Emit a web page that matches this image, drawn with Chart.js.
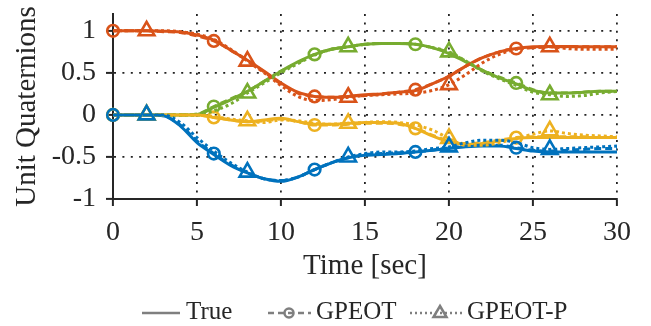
<!DOCTYPE html>
<html lang="en">

<head>
  <meta charset="utf-8" />
  <title>Unit Quaternions</title>
  <script src="https://cdn.jsdelivr.net/npm/chart.js@4.4.0/dist/chart.umd.min.js"></script>
  <style>
    body { margin: 0; background: #fff; }
  </style>
</head>

<body>
  <canvas id="chart" width="651" height="326"></canvas>
  <script>
    // time stamps [sec]
    const time = [0, 1, 2, 3, 4, 5, 6, 7, 8, 9, 10, 11, 12, 13, 14, 15, 16, 17, 18, 19, 20, 21, 22, 23, 24, 25, 26, 27, 28, 29, 30];

    // q0 (orange)
    const trueQ0 = [1.00, 1.00, 1.00, 0.995, 0.985, 0.95, 0.89, 0.77, 0.65, 0.52, 0.38, 0.27, 0.22, 0.21, 0.22, 0.24, 0.25, 0.27, 0.29, 0.37, 0.46, 0.58, 0.68, 0.75, 0.79, 0.81, 0.815, 0.815, 0.81, 0.81, 0.81];
    const gpeotQ0 = [1.00, 1.00, 1.00, 0.99, 0.98, 0.94, 0.88, 0.77, 0.65, 0.51, 0.37, 0.26, 0.22, 0.21, 0.22, 0.23, 0.25, 0.27, 0.30, 0.37, 0.46, 0.58, 0.68, 0.75, 0.79, 0.80, 0.81, 0.81, 0.81, 0.81, 0.81];
    const gpeotPQ0 = [1.00, 1.00, 1.00, 1.00, 0.99, 0.96, 0.90, 0.78, 0.64, 0.50, 0.35, 0.22, 0.17, 0.18, 0.21, 0.23, 0.24, 0.25, 0.26, 0.29, 0.36, 0.48, 0.62, 0.72, 0.78, 0.80, 0.81, 0.79, 0.78, 0.78, 0.78];

    // q1 (blue)
    const trueQ1 = [0, 0, 0, -0.01, -0.13, -0.33, -0.47, -0.60, -0.69, -0.76, -0.79, -0.74, -0.65, -0.57, -0.51, -0.48, -0.47, -0.46, -0.44, -0.42, -0.40, -0.38, -0.37, -0.37, -0.40, -0.43, -0.44, -0.44, -0.44, -0.44, -0.44];
    const gpeotQ1 = [0, 0, 0, -0.01, -0.12, -0.31, -0.46, -0.59, -0.69, -0.76, -0.78, -0.74, -0.65, -0.57, -0.51, -0.47, -0.46, -0.45, -0.44, -0.42, -0.39, -0.37, -0.36, -0.36, -0.39, -0.42, -0.43, -0.42, -0.41, -0.40, -0.40];
    const gpeotPQ1 = [0, 0, 0, 0, -0.09, -0.27, -0.43, -0.57, -0.68, -0.76, -0.78, -0.74, -0.65, -0.57, -0.50, -0.46, -0.44, -0.44, -0.43, -0.40, -0.38, -0.33, -0.30, -0.30, -0.33, -0.39, -0.41, -0.40, -0.39, -0.38, -0.37];

    // q2 (yellow)
    const trueQ2 = [0, 0, 0, 0, 0, 0, -0.03, -0.06, -0.08, -0.06, -0.04, -0.08, -0.11, -0.11, -0.10, -0.09, -0.09, -0.10, -0.16, -0.25, -0.32, -0.35, -0.34, -0.31, -0.28, -0.27, -0.27, -0.27, -0.27, -0.27, -0.27];
    const gpeotQ2 = [0, 0, 0, 0, 0, 0, -0.03, -0.06, -0.08, -0.07, -0.05, -0.08, -0.12, -0.12, -0.11, -0.10, -0.10, -0.11, -0.16, -0.24, -0.31, -0.34, -0.33, -0.30, -0.27, -0.26, -0.26, -0.26, -0.26, -0.27, -0.27];
    const gpeotPQ2 = [0, 0, 0, 0, 0, 0, -0.02, -0.05, -0.07, -0.09, -0.06, -0.07, -0.10, -0.11, -0.10, -0.09, -0.08, -0.09, -0.12, -0.18, -0.28, -0.36, -0.36, -0.33, -0.28, -0.23, -0.19, -0.22, -0.24, -0.25, -0.26];

    // q3 (green)
    const trueQ3 = [0, 0, 0, 0, 0, 0.005, 0.09, 0.18, 0.28, 0.40, 0.52, 0.63, 0.72, 0.78, 0.81, 0.84, 0.85, 0.85, 0.84, 0.80, 0.73, 0.63, 0.53, 0.44, 0.37, 0.29, 0.26, 0.26, 0.27, 0.28, 0.28];
    const gpeotQ3 = [0, 0, 0, 0, 0, 0.01, 0.10, 0.19, 0.28, 0.40, 0.52, 0.62, 0.72, 0.78, 0.81, 0.84, 0.85, 0.85, 0.84, 0.80, 0.74, 0.64, 0.53, 0.45, 0.38, 0.30, 0.26, 0.26, 0.27, 0.28, 0.28];
    const gpeotPQ3 = [0, 0, 0, 0, 0, 0, 0.05, 0.13, 0.26, 0.38, 0.50, 0.61, 0.71, 0.78, 0.81, 0.84, 0.85, 0.85, 0.84, 0.80, 0.75, 0.64, 0.52, 0.43, 0.35, 0.27, 0.24, 0.22, 0.23, 0.26, 0.28];

    // where the markers sit
    const gpeotMarkers = [0, 6, 12, 18, 24];
    const gpeotPMarkers = [2, 8, 14, 20, 26];

    const xTicks = [0, 5, 10, 15, 20, 25, 30];
    const yTicks = [-1, -0.5, 0, 0.5, 1];
    const legendLabels = ['True', 'GPEOT', 'GPEOT-P'];

    const colors = ['#D95319', '#0072BD', '#EDB120', '#77AC30'];
    const FONT = "'Liberation Serif', 'Times New Roman', serif";
    const TXT = '#262626';

    function pts(vals) {
      return time.map((t, i) => ({ x: t, y: vals[i] }));
    }

    const groups = [
      [trueQ0, gpeotQ0, gpeotPQ0],
      [trueQ1, gpeotQ1, gpeotPQ1],
      [trueQ2, gpeotQ2, gpeotPQ2],
      [trueQ3, gpeotQ3, gpeotPQ3]
    ];

    const datasets = [];
    groups.forEach((g, k) => {
      const c = colors[k];
      datasets.push({
        label: legendLabels[0], data: pts(g[0]), borderColor: c, borderWidth: 3,
        pointRadius: 0, order: 3, clip: false
      });
      datasets.push({
        label: legendLabels[1], data: pts(g[1]), borderColor: c, borderWidth: 3,
        borderDash: [7, 4], pointStyle: 'circle',
        pointRadius: ctx => gpeotMarkers.includes(ctx.raw.x) ? 5.8 : 0,
        pointBorderWidth: 2.6, pointBorderColor: c, pointBackgroundColor: 'rgba(255,255,255,0)',
        order: 2, clip: false
      });
      datasets.push({
        label: legendLabels[2], data: pts(g[2]), borderColor: c, borderWidth: 3,
        borderDash: [3, 3], pointStyle: 'triangle',
        pointRadius: ctx => gpeotPMarkers.includes(ctx.raw.x) ? 9 : 0,
        pointBorderWidth: 2.6, pointBorderColor: c, pointBackgroundColor: 'rgba(255,255,255,0)',
        order: 1, clip: false
      });
    });

    // legend with line + marker, drawn under the axis title
    const quatLegend = {
      id: 'quatLegend',
      afterDraw(chart) {
        const ctx = chart.ctx;
        const y = 313;
        const grey = '#7f7f7f';
        ctx.save();
        ctx.strokeStyle = grey;
        ctx.lineWidth = 2.5;

        // True
        ctx.beginPath(); ctx.moveTo(142, y); ctx.lineTo(180, y); ctx.stroke();
        // GPEOT
        ctx.setLineDash([6, 4]);
        ctx.beginPath(); ctx.moveTo(268, y); ctx.lineTo(311, y); ctx.stroke();
        ctx.setLineDash([]);
        ctx.beginPath(); ctx.arc(289, y, 4.5, 0, Math.PI * 2); ctx.stroke();
        // GPEOT-P
        ctx.setLineDash([2, 3]);
        ctx.beginPath(); ctx.moveTo(410, y); ctx.lineTo(463, y); ctx.stroke();
        ctx.setLineDash([]);
        ctx.beginPath();
        ctx.moveTo(440, y - 7); ctx.lineTo(446.5, y + 4); ctx.lineTo(433.5, y + 4); ctx.closePath();
        ctx.stroke();

        ctx.fillStyle = TXT;
        ctx.font = "25px " + FONT;
        ctx.textBaseline = 'middle';
        ctx.textAlign = 'left';
        ctx.fillText(legendLabels[0], 186, y - 1);
        ctx.fillText(legendLabels[1], 316, y - 1);
        ctx.fillText(legendLabels[2], 467, y - 1);
        ctx.restore();
      }
    };

    new Chart(document.getElementById('chart'), {
      type: 'line',
      data: { datasets: datasets },
      options: {
        responsive: false,
        animation: false,
        layout: { padding: { left: 0, right: 34, top: 14, bottom: 36 } },
        elements: { line: { cubicInterpolationMode: 'monotone' } },
        plugins: { legend: { display: false }, tooltip: { enabled: false } },
        scales: {
          x: {
            type: 'linear', min: 0, max: 30,
            afterFit: s => { s.height = 91; s.paddingLeft = 0; s.paddingRight = 0; },
            afterBuildTicks: s => { s.ticks = xTicks.map(v => ({ value: v })); },
            ticks: { stepSize: 5, padding: 10, color: TXT, font: { family: FONT, size: 28 }, maxRotation: 0, callback: v => String(v) },
            grid: { color: '#222', lineWidth: 1.8, tickLength: 7, tickColor: '#262626', tickWidth: 2, tickBorderDash: [] },
            border: { display: true, color: '#262626', width: 2, dash: [2, 6.4] },
            title: { display: true, text: 'Time [sec]', color: TXT, font: { family: FONT, size: 29 }, padding: { top: 0, bottom: 6 } }
          },
          y: {
            min: -1, max: 1.2,
            afterFit: s => { s.width = 113; s.paddingTop = 0; s.paddingBottom = 0; },
            afterBuildTicks: s => { s.ticks = yTicks.map(v => ({ value: v })); },
            ticks: { padding: 10, color: TXT, font: { family: FONT, size: 28 }, callback: v => String(v) },
            grid: { color: '#222', lineWidth: 1.8, tickLength: 7, tickColor: '#262626', tickWidth: 2, tickBorderDash: [] },
            border: { display: true, color: '#262626', width: 2, dash: [2, 6.4] },
            title: { display: true, text: 'Unit Quaternions', color: TXT, font: { family: FONT, size: 29 }, padding: { top: 10, bottom: 0 } }
          }
        }
      },
      plugins: [quatLegend]
    });
  </script>
</body>

</html>
